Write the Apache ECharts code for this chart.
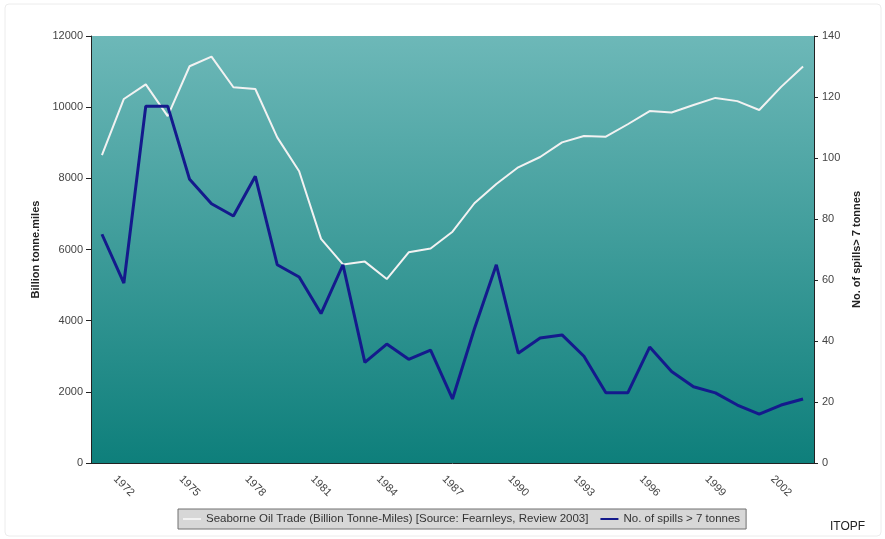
<!DOCTYPE html>
<html>
<head>
<meta charset="utf-8">
<script src="https://cdn.jsdelivr.net/npm/echarts@6/dist/echarts.min.js"></script>
<style>
html,body{margin:0;padding:0;background:#fff;}
#chart{width:885px;height:539px;}
</style>
</head>
<body>
<div id="chart"></div>
<script>
const years = ['1971','1972','1973','1974','1975','1976','1977','1978','1979','1980','1981','1982','1983','1984','1985','1986','1987','1988','1989','1990','1991','1992','1993','1994','1995','1996','1997','1998','1999','2000','2001','2002','2003'];
const oilTrade = [8650,10230,10640,9750,11150,11420,10560,10510,9150,8200,6300,5580,5660,5170,5920,6030,6500,7300,7840,8310,8600,9010,9190,9170,9520,9890,9850,10060,10260,10170,9920,10570,11140];
const spills = [75,59,117,117,93,85,81,94,65,61,49,65,33,39,34,37,21,44,65,36,41,42,35,23,23,38,30,25,23,19,16,19,21];
const oilName = 'Seaborne Oil Trade (Billion Tonne-Miles) [Source: Fearnleys, Review 2003]';
const spillName = 'No. of spills > 7 tonnes';

const chart = echarts.init(document.getElementById('chart'));
const font = 'Liberation Sans, Arial, sans-serif';
chart.setOption({
  animation: false,
  backgroundColor: '#fff',
  textStyle: { fontFamily: font },
  grid: {
    left: 91, right: 71, top: 36, bottom: 76,
    show: true,
    borderWidth: 0,
    backgroundColor: new echarts.graphic.LinearGradient(0, 0, 0, 1, [
      { offset: 0, color: '#6db8b8' },
      { offset: 1, color: '#0e7f7b' }
    ])
  },
  legend: {
    left: 178, top: 509,
    padding: [4, 6, 4, 5],
    itemGap: 12,
    itemWidth: 18, itemHeight: 2,
    backgroundColor: '#d7d7d7',
    borderColor: '#707070', borderWidth: 1,
    textStyle: { fontSize: 11.5, color: '#333', fontFamily: font },
    data: [
      { name: oilName, icon: 'rect' },
      { name: spillName, icon: 'rect' }
    ]
  },
  xAxis: {
    type: 'category',
    data: years,
    boundaryGap: true,
    axisLine: { lineStyle: { color: '#222', width: 1 } },
    axisTick: { interval: 0, length: 5, lineStyle: { color: '#222' } },
    axisLabel: {
      interval: (i) => i % 3 === 1,
      rotate: -45,
      align: 'center',
      verticalAlign: 'middle',
      margin: 23,
      fontSize: 11,
      color: '#444'
    },
    splitLine: { show: false }
  },
  yAxis: [
    {
      type: 'value', min: 0, max: 12000, interval: 2000,
      name: 'Billion tonne.miles',
      nameLocation: 'middle', nameGap: 44, nameRotate: 90,
      nameTextStyle: { fontSize: 11, fontWeight: 'bold', color: '#222' },
      axisLine: { show: true, lineStyle: { color: '#222' } },
      axisTick: { show: true, length: 5, lineStyle: { color: '#222' } },
      axisLabel: { fontSize: 11, color: '#444', margin: 8, formatter: (v) => String(v) },
      splitLine: { show: false }
    },
    {
      type: 'value', min: 0, max: 140, interval: 20, position: 'right',
      name: 'No. of spills> 7 tonnes',
      nameLocation: 'middle', nameGap: 33, nameRotate: 90,
      nameTextStyle: { fontSize: 11, fontWeight: 'bold', color: '#222' },
      axisLine: { show: true, lineStyle: { color: '#222' } },
      axisTick: { show: true, length: 4, lineStyle: { color: '#222' } },
      axisLabel: { fontSize: 11, color: '#444', margin: 8, formatter: (v) => String(v) },
      splitLine: { show: false }
    }
  ],
  series: [
    {
      name: oilName, type: 'line', yAxisIndex: 0, data: oilTrade,
      symbol: 'none', itemStyle: { color: '#f2f2f2' },
      lineStyle: { color: '#f2f2f2', width: 2 }
    },
    {
      name: spillName, type: 'line', yAxisIndex: 1, data: spills,
      symbol: 'none', itemStyle: { color: '#141a8c' },
      lineStyle: { color: '#141a8c', width: 3 }
    }
  ],
  graphic: [
    {
      type: 'rect', silent: true, z: -1,
      shape: { x: 5, y: 4, width: 876, height: 532, r: 4 },
      style: { fill: 'none', stroke: '#ececec', lineWidth: 1 }
    },
    {
      type: 'text', left: 830, top: 521,
      style: { text: 'ITOPF', fontSize: 12, fill: '#222', fontFamily: font }
    }
  ]
});
</script>
</body>
</html>
